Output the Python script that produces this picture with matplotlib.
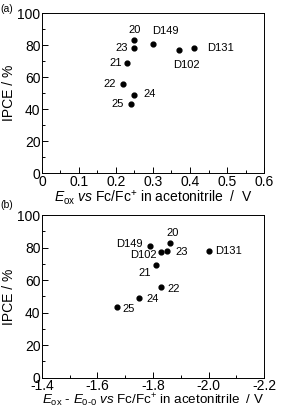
import matplotlib
matplotlib.use('Agg')
from matplotlib import pyplot as plt
from matplotlib.ticker import MultipleLocator

plt.rcParams['font.family'] = ['Liberation Sans', 'DejaVu Sans']
plt.rcParams['mathtext.fontset'] = 'custom'
plt.rcParams['mathtext.rm'] = 'Liberation Sans'
plt.rcParams['mathtext.it'] = 'Liberation Sans:italic'

# dye labels
names_a = ['20', '23', 'D149', 'D102', 'D131', '21', '22', '24', '25']
eox = [0.25, 0.25, 0.30, 0.37, 0.41, 0.23, 0.22, 0.25, 0.24]
ipce_a = [83, 78, 81, 77, 78, 69, 56, 49, 43.5]

names_b = ['D149', '20', 'D102', '23', '21', 'D131', '22', '24', '25']
eox_e00 = [-1.79, -1.86, -1.83, -1.85, -1.81, -2.00, -1.83, -1.75, -1.67]
ipce_b = [81, 83, 77, 78, 69, 78, 56, 49, 43.5]

xticks_a = [0, 0.1, 0.2, 0.3, 0.4, 0.5, 0.6]
xlabels_a = ['0', '0.1', '0.2', '0.3', '0.4', '0.5', '0.6']
xticks_b = [-1.4, -1.6, -1.8, -2.0, -2.2]
xlabels_b = ['-1.4', '-1.6', '-1.8', '-2.0', '-2.2']

# label offsets in pixels (dx, dy, ha)
off_a = {'20': (0, 10, 'center'), '23': (-7, 0, 'right'), 'D149': (12, 13, 'center'),
         'D102': (8, -15, 'center'), 'D131': (13, 0, 'left'), '21': (-5, 0, 'right'),
         '22': (-7, 0, 'right'), '24': (9, 1, 'left'), '25': (-7, 0, 'right')}
off_b = {'D149': (-8, 2, 'right'), '20': (3, 10, 'center'), 'D102': (-5, -3, 'right'),
         '23': (9, -1, 'left'), '21': (-5, -8, 'right'), 'D131': (7, 0, 'left'),
         '22': (6, -2, 'left'), '24': (7, -1, 'left'), '25': (6, -2, 'left')}

fig = plt.figure(figsize=(2.83, 4.09), dpi=100)
ax1 = fig.add_axes([0.148, 0.576, 0.785, 0.392])
ax2 = fig.add_axes([0.148, 0.077, 0.785, 0.397])


def style(ax, xminor):
    ax.set_ylim(0, 100)
    ax.yaxis.set_major_locator(MultipleLocator(20))
    ax.yaxis.set_minor_locator(MultipleLocator(10))
    ax.xaxis.set_minor_locator(MultipleLocator(xminor))
    ax.tick_params(which='both', direction='in', labelsize=10, width=0.7, pad=1)
    ax.tick_params(which='major', length=4)
    ax.tick_params(which='minor', length=2)
    for s in ax.spines.values():
        s.set_linewidth(0.7)
    ax.set_ylabel('IPCE / %', fontsize=10, labelpad=1)


def label(ax, xs, ys, names, offs):
    ax.scatter(xs, ys, s=12, color='black', zorder=3)
    for x, y, n in zip(xs, ys, names):
        dx, dy, ha = offs[n]
        ax.annotate(n, (x, y), xytext=(dx, dy), textcoords='offset pixels',
                    ha=ha, va='center', fontsize=8)


label(ax1, eox, ipce_a, names_a, off_a)
ax1.set_xticks(xticks_a, xlabels_a)
ax1.set_xlim(0, 0.6)
style(ax1, 0.05)
ax1.set_xlabel(r'$E_{\mathrm{ox}}$ $vs$ Fc/Fc$^{+}$ in acetonitrile  /  V', fontsize=10, labelpad=0)

label(ax2, eox_e00, ipce_b, names_b, off_b)
ax2.set_xticks(xticks_b, xlabels_b)
ax2.set_xlim(-1.4, -2.2)
style(ax2, 0.1)
ax2.set_xlabel(r'$E_{\mathrm{ox}}$ - $E_{\mathit{0}\text{-}\mathit{0}}$ $vs$ Fc/Fc$^{+}$ in acetonitrile  / V',
               fontsize=9.6, labelpad=-0.5)

fig.text(0.0, 0.99, '(a)', fontsize=7.5, va='top')
fig.text(0.0, 0.50, '(b)', fontsize=7.5, va='center')

fig.savefig('out.png', dpi=100)
